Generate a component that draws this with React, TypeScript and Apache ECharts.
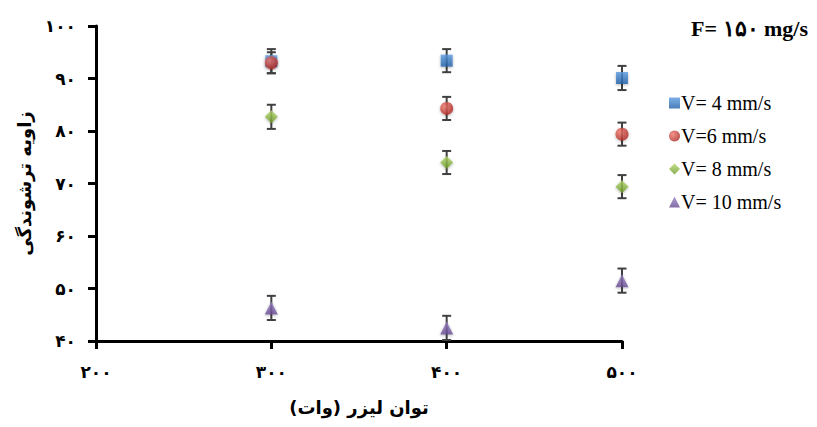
import React, { useEffect, useRef } from "react";
import * as echarts from "echarts";

const powers = [300, 400, 500];
const seriesNames = ["V= 4 mm/s", "V=6 mm/s", "V= 8 mm/s", "V= 10 mm/s"];
const v4 = [93.3, 93.4, 90.1];
const v6 = [93.0, 84.3, 79.4];
const v8 = [82.7, 74.0, 69.4];
const v10 = [46.3, 42.5, 51.5];
const err4 = [2.3, 2.2, 2.3];
const err6 = [2.0, 2.2, 2.2];
const err8 = [2.3, 2.2, 2.2];
const err10 = [2.3, 2.3, 2.3];
const xTitle = "توان لیزر (وات)";
const yTitle = "زاویه ترشوندگی";
const chartTitle = "F= ۱۵۰ mg/s";

const toFa = (v: number | string) =>
  String(v).replace(/[0-9]/g, (d) => "۰۱۲۳۴۵۶۷۸۹"[Number(d)]);

const symbols = ["rect", "circle", "diamond", "triangle"];
const colors = [
  new echarts.graphic.LinearGradient(0, 0, 0, 1, [
    { offset: 0, color: "#5b9be0" },
    { offset: 1, color: "#1f5fa8" },
  ]),
  new echarts.graphic.RadialGradient(0.35, 0.35, 0.75, [
    { offset: 0, color: "#f07a6e" },
    { offset: 1, color: "#a8201c" },
  ]),
  new echarts.graphic.LinearGradient(0, 0, 0, 1, [
    { offset: 0, color: "#b3d86a" },
    { offset: 1, color: "#6e9a2a" },
  ]),
  new echarts.graphic.LinearGradient(0, 0, 0, 1, [
    { offset: 0, color: "#9c84c6" },
    { offset: 1, color: "#664a92" },
  ]),
];
const sizes = [12, 13, 13, 13];

export default function App() {
  const ref = useRef<HTMLDivElement>(null);
  useEffect(() => {
    if (!ref.current) return;
    const chart = echarts.init(ref.current, null, { renderer: "svg" });
    const vals = [v4, v6, v8, v10];
    const errs = [err4, err6, err8, err10];
    const errSeries = vals.map((vs, si) => ({
      type: "custom",
      name: seriesNames[si] + " err",
      z: 2,
      silent: true,
      data: vs.map((v, i) => [powers[i], v - errs[si][i], v + errs[si][i]]),
      renderItem: (params: any, api: any) => {
        const x = api.value(0);
        const hi = api.coord([x, api.value(2)]);
        const lo = api.coord([x, api.value(1)]);
        const style = { stroke: "#404040", lineWidth: 2 };
        const cap = 4.5;
        return {
          type: "group",
          children: [
            { type: "line", shape: { x1: hi[0], y1: hi[1], x2: lo[0], y2: lo[1] }, style },
            { type: "line", shape: { x1: hi[0] - cap, y1: hi[1], x2: hi[0] + cap, y2: hi[1] }, style },
            { type: "line", shape: { x1: lo[0] - cap, y1: lo[1], x2: lo[0] + cap, y2: lo[1] }, style },
          ],
        };
      },
    }));
    const scatterSeries = vals.map((vs, si) => ({
      type: "scatter",
      name: seriesNames[si],
      z: 5,
      symbol: symbols[si],
      symbolSize: sizes[si],
      itemStyle: {
        color: colors[si],
        shadowBlur: 3,
        shadowColor: "rgba(0,0,0,0.35)",
        shadowOffsetY: 1,
      },
      data: vs.map((v, i) => [powers[i], v]),
    }));
    chart.setOption({
      animation: false,
      title: {
        text: chartTitle,
        right: 4,
        top: 12,
        textStyle: {
          fontFamily: "Liberation Serif",
          fontWeight: "bold",
          fontSize: 22,
          color: "#000",
        },
      },
      legend: {
        orient: "vertical",
        left: 664,
        top: 88,
        itemWidth: 11,
        itemHeight: 11,
        itemGap: 13,
        data: seriesNames,
        textStyle: {
          fontFamily: "Liberation Serif",
          fontSize: 20,
          color: "#000",
          padding: [0, 0, 0, -4],
        },
      },
      grid: { left: 96, top: 26, right: 195, bottom: 86, containLabel: false },
      xAxis: {
        type: "value",
        min: 200,
        max: 500,
        interval: 100,
        name: xTitle,
        nameLocation: "middle",
        nameGap: 57,
        nameTextStyle: {
          fontFamily: "DejaVu Sans",
          fontWeight: "bold",
          fontSize: 18,
          color: "#000",
        },
        axisLine: { lineStyle: { color: "#000", width: 3 } },
        axisTick: { length: 8, lineStyle: { color: "#000", width: 3 } },
        splitLine: { show: false },
        axisLabel: {
          formatter: (v: number) => toFa(v),
          margin: 22,
          fontFamily: "DejaVu Sans",
          fontWeight: "bold",
          fontSize: 17,
          color: "#000",
        },
      },
      yAxis: {
        type: "value",
        min: 40,
        max: 100,
        interval: 10,
        name: yTitle,
        nameLocation: "middle",
        nameGap: 48,
        nameRotate: 90,
        nameTextStyle: {
          fontFamily: "DejaVu Sans",
          fontWeight: "bold",
          fontSize: 18,
          color: "#000",
        },
        axisLine: { show: true, lineStyle: { color: "#000", width: 3 } },
        axisTick: { show: true, length: 8, lineStyle: { color: "#000", width: 3 } },
        splitLine: { show: false },
        axisLabel: {
          formatter: (v: number) => toFa(v),
          margin: 20,
          fontFamily: "DejaVu Sans",
          fontWeight: "bold",
          fontSize: 17,
          color: "#000",
        },
      },
      series: [...errSeries, ...scatterSeries],
    });
    return () => chart.dispose();
  }, []);
  return <div ref={ref} style={{ width: 817, height: 427, margin: -8 }} />;
}
